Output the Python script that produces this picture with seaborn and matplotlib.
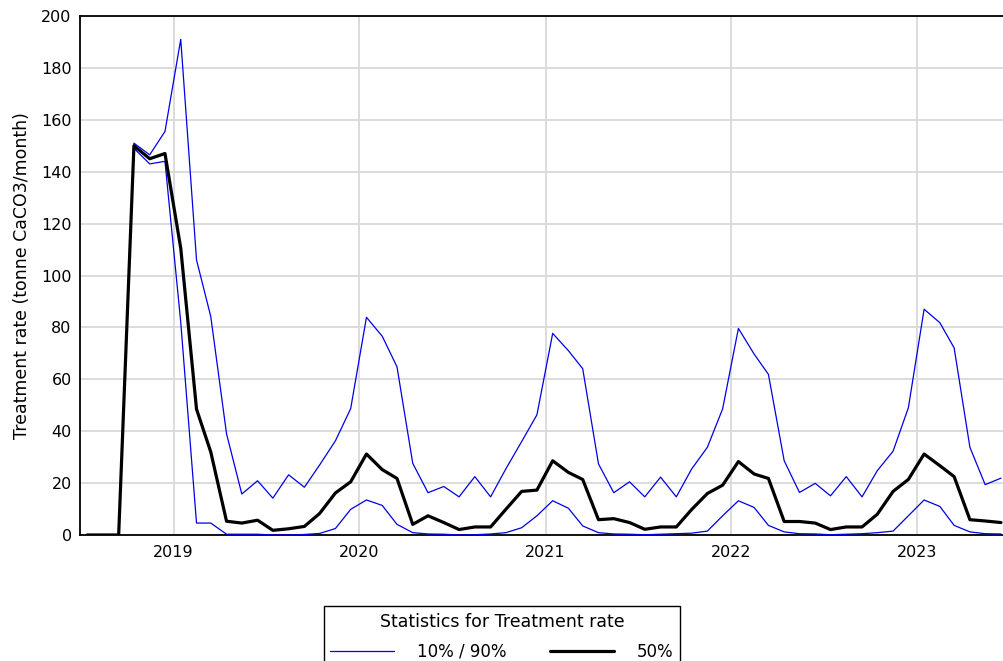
import numpy as np
import pandas as pd
import matplotlib
matplotlib.use('Agg')

import matplotlib.pyplot as plt
import matplotlib.dates as mdates
from matplotlib.ticker import MultipleLocator
from matplotlib.lines import Line2D
import seaborn as sns

# monthly values, Jul 2018 .. Jun 2023 (plotted mid-month)
months = pd.date_range('2018-07-01', '2023-06-01', freq='MS') + pd.Timedelta(days=14)

p90 = [0, 0, 0, 151, 146.5, 155.5,
       191, 106, 84.2, 39, 15.8, 20.9, 14.2, 23.2, 18.4, 27, 36.3, 48.7,
       83.9, 76.6, 64.8, 27.6, 16.3, 18.7, 14.7, 22.5, 14.7, 25.5, 36, 46.3,
       77.7, 71, 64.1, 27.4, 16.3, 20.5, 14.7, 22.3, 14.7, 25.4, 33.8, 48.6,
       79.6, 69.7, 61.9, 28.6, 16.4, 19.9, 15.1, 22.5, 14.7, 24.8, 32.3, 49,
       87, 81.8, 72.1, 33.8, 19.4, 21.9]

p50 = [0, 0, 0, 150, 145, 147,
       110.5, 48.5, 32, 5.3, 4.6, 5.7, 1.8, 2.4, 3.3, 8.3, 16.2, 20.5,
       31.2, 25.2, 21.8, 4.1, 7.4, 4.8, 2.1, 3.1, 3.1, 9.9, 16.8, 17.3,
       28.6, 24.1, 21.4, 5.9, 6.3, 4.8, 2.2, 3.1, 3.1, 9.8, 16, 19.2,
       28.3, 23.5, 21.8, 5.2, 5.2, 4.6, 2.1, 3.1, 3.1, 8, 16.8, 21.4,
       31.2, 26.7, 22.5, 5.9, 5.4, 4.8]

p10 = [0, 0, 0, 149, 143, 144,
       82, 4.6, 4.6, 0.3, 0.3, 0.3, 0, 0, 0.2, 0.6, 2.5, 9.9,
       13.5, 11.4, 4.1, 0.9, 0.4, 0.3, 0, 0.1, 0.4, 0.9, 2.8, 7.4,
       13.2, 10.3, 3.5, 0.9, 0.4, 0.3, 0.1, 0.3, 0.5, 0.7, 1.5, 7.4,
       13.2, 10.6, 3.7, 1.2, 0.5, 0.4, 0.1, 0.3, 0.5, 0.9, 1.5, 7.4,
       13.5, 11, 3.7, 1.2, 0.5, 0.4]

sns.set_style('white')
plt.rcParams['font.family'] = ['DejaVu Sans']
plt.rcParams['text.color'] = 'black'
plt.rcParams['axes.labelcolor'] = 'black'
plt.rcParams['xtick.color'] = 'black'
plt.rcParams['ytick.color'] = 'black'

blue = '#0000e6'

fig = plt.figure(figsize=(10.04, 6.61), dpi=100)
ax = fig.add_axes([80 / 1004, 1 - 535 / 661, 924 / 1004, 519 / 661])

sns.lineplot(x=months, y=p90, color=blue, linewidth=0.9, ax=ax, zorder=3)
sns.lineplot(x=months, y=p10, color=blue, linewidth=0.9, ax=ax, zorder=3)
sns.lineplot(x=months, y=p50, color='black', linewidth=2.3, ax=ax, zorder=4)

ax.set_xlim(pd.Timestamp('2018-07-01'), pd.Timestamp('2023-06-21'))
ax.set_ylim(0, 200)

ax.xaxis.set_major_locator(mdates.YearLocator())
ax.xaxis.set_major_formatter(mdates.DateFormatter('%Y'))
ax.yaxis.set_major_locator(MultipleLocator(20))
ax.yaxis.set_minor_locator(MultipleLocator(10))

ax.grid(True, which='major', color='#d9d9d9', linewidth=1.3)
ax.set_axisbelow(True)

for side in ['left', 'bottom', 'top']:
    ax.spines[side].set_color('black')
    ax.spines[side].set_linewidth(1.3)
ax.spines['right'].set_visible(False)

ax.tick_params(axis='both', which='both', direction='inout', length=5,
               width=1, color='black', labelcolor='black', labelsize=11.5)
ax.tick_params(axis='y', which='major', pad=3.5)
ax.tick_params(axis='x', which='major', pad=5)
ax.tick_params(axis='x', which='minor', length=0)

ax.set_xlabel('')
ax.set_ylabel('Treatment rate (tonne CaCO3/month)', fontsize=12.5, labelpad=7,
              color='black')

handles = [Line2D([], [], color=blue, linewidth=0.9),
           Line2D([], [], color='black', linewidth=2.3)]
leg = fig.legend(handles, ['10% / 90%', '50%'], title='Statistics for Treatment rate',
                 loc='upper center', bbox_to_anchor=(502 / 1004, 1 - 606 / 661),
                 borderaxespad=0, ncol=2, fontsize=12, title_fontsize=12.5,
                 frameon=True, fancybox=False,
                 handlelength=3.85, handletextpad=1.38, columnspacing=2.58,
                 borderpad=0.4, labelspacing=0.72)
leg.get_frame().set_edgecolor('black')
leg.get_frame().set_linewidth(1)
leg.get_frame().set_alpha(1)

fig.savefig('out.png', dpi=100)
